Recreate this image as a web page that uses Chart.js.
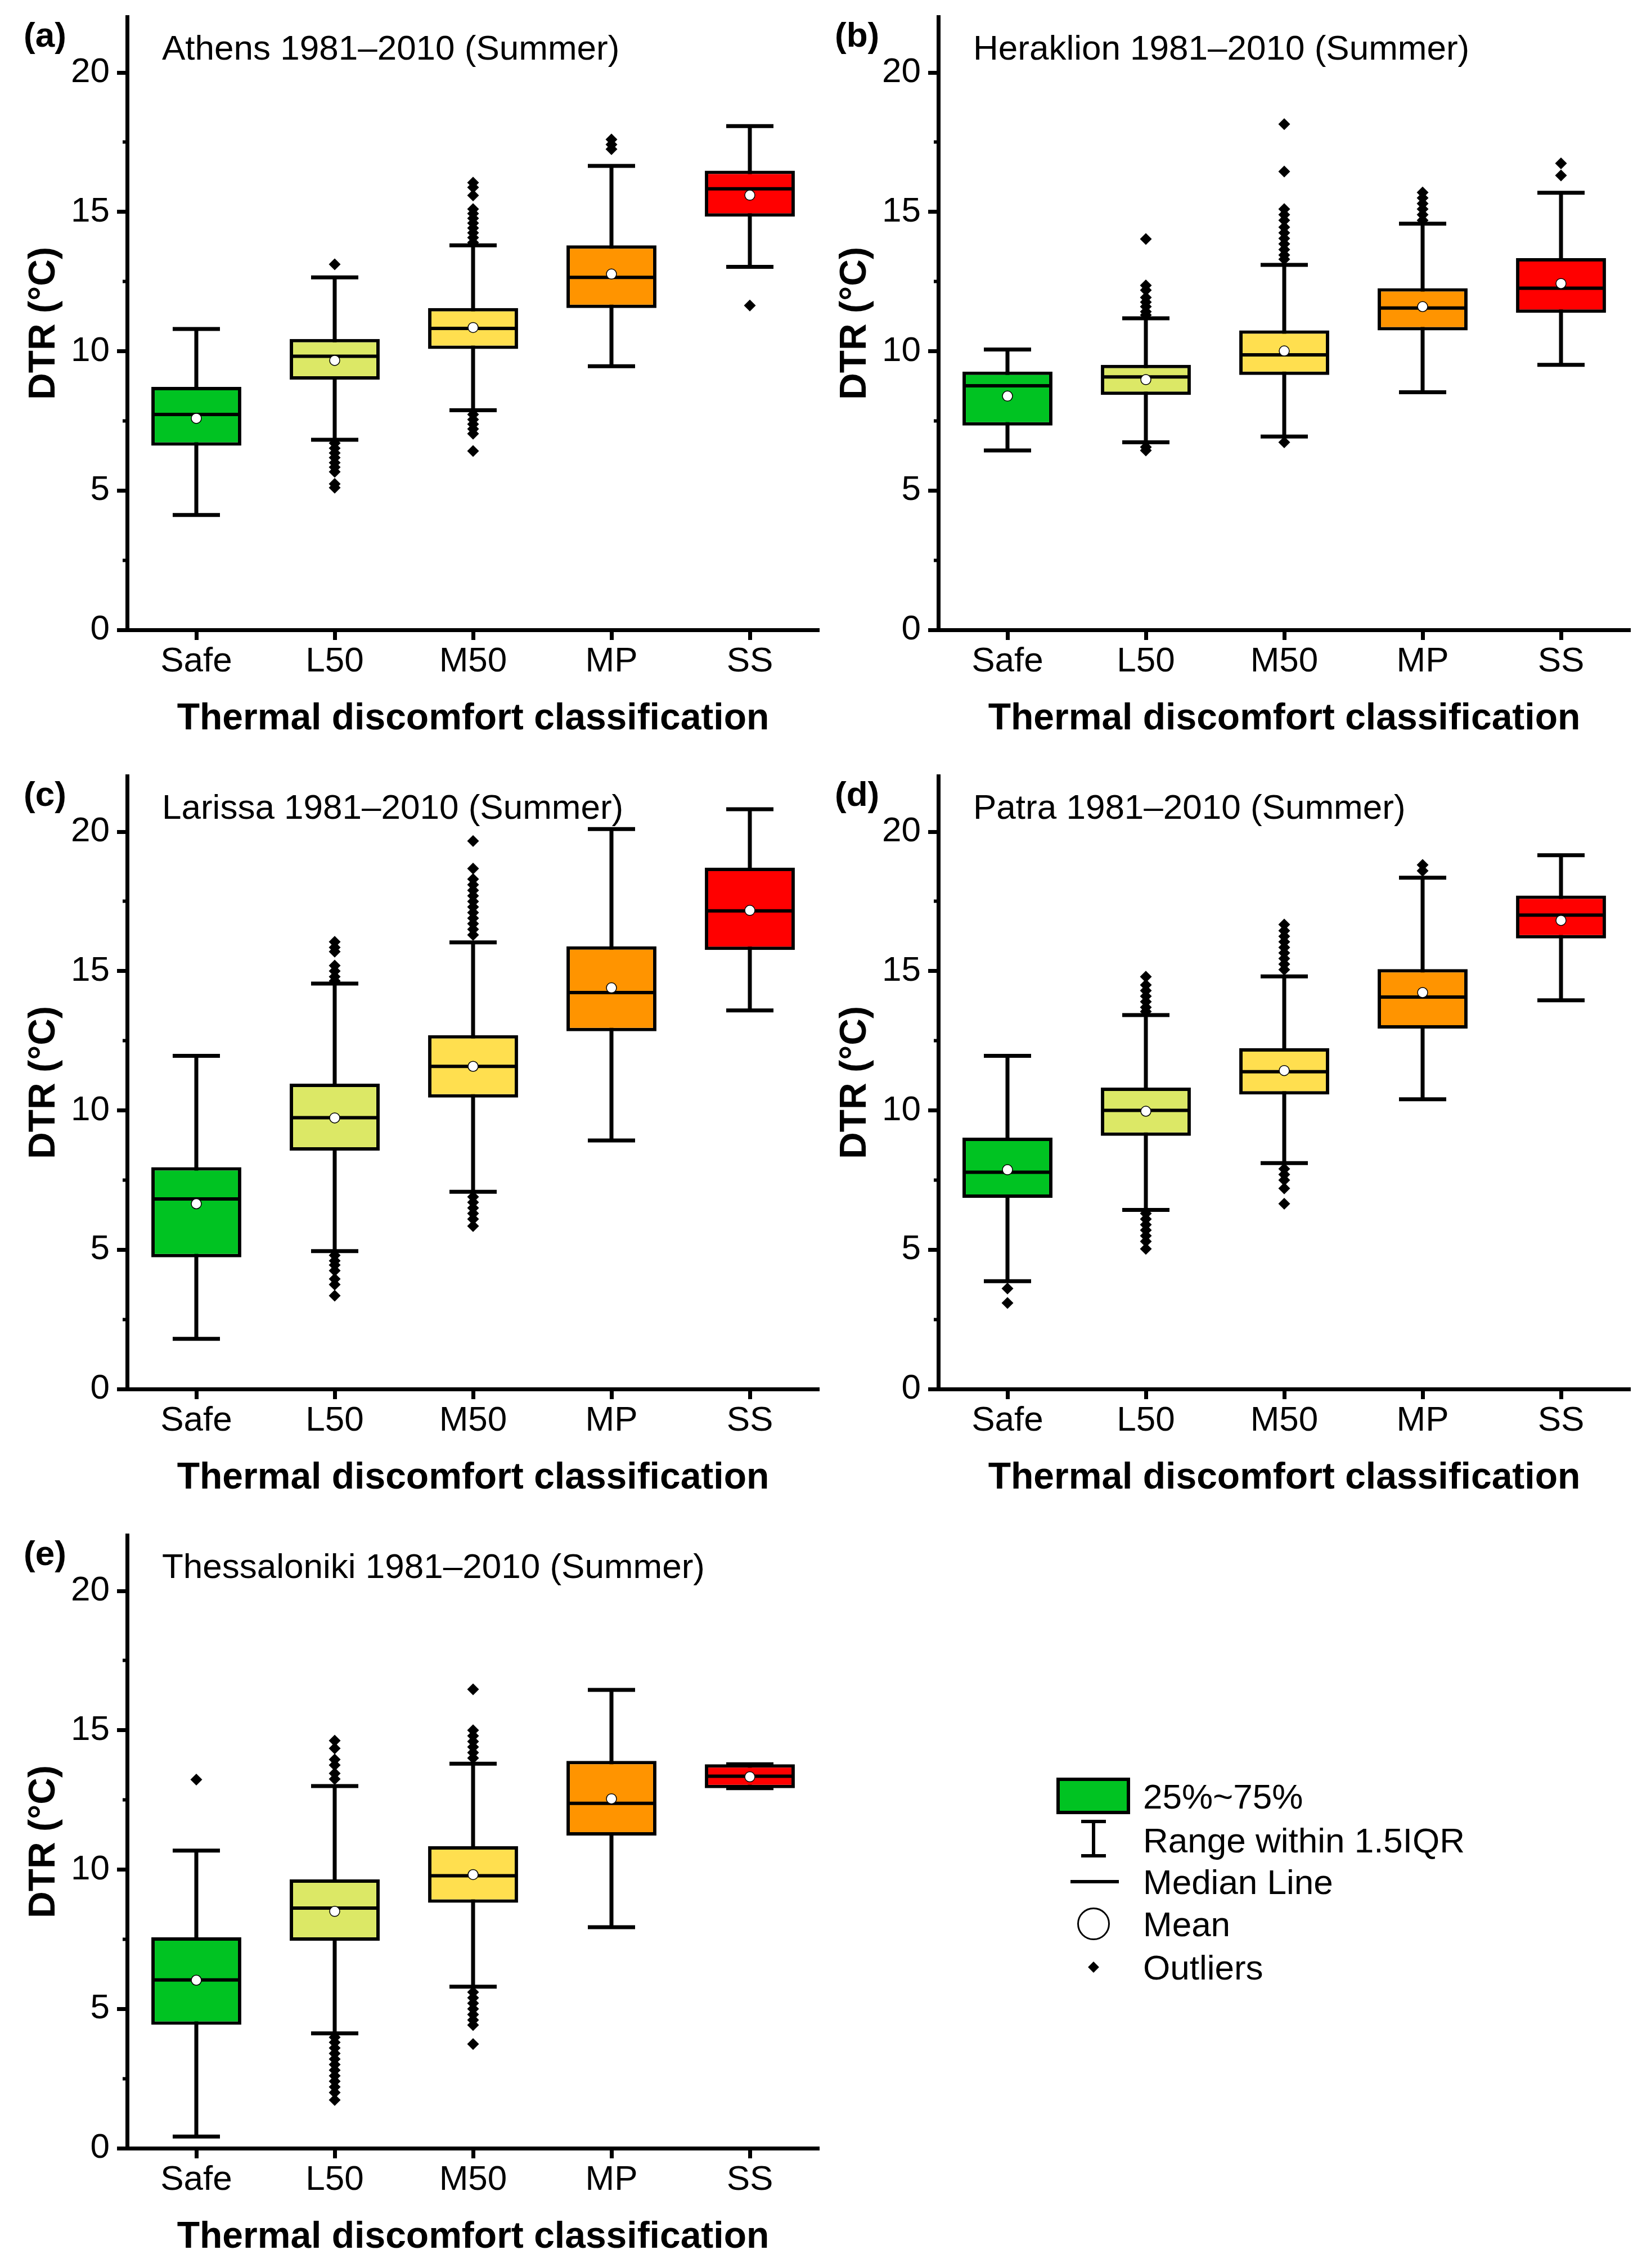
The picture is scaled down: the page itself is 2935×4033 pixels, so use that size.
<!DOCTYPE html>
<html>
<head>
<meta charset="utf-8">
<script src="https://cdn.jsdelivr.net/npm/chart.js@4.4.1/dist/chart.umd.min.js"></script>
<style>
  html, body { margin: 0; padding: 0; background: #fff; }
  body { width: 2935px; height: 4033px; position: relative; overflow: hidden; font-family: "Liberation Sans", Arial, sans-serif; color: #000; }
  canvas { position: absolute; }
  .lg { position: absolute; }
  .lgtext { position: absolute; font-size: 62px; line-height: 70px; white-space: nowrap; }
</style>
</head>
<body>
<canvas id="cA" width="1470" height="1340" style="left:0px;top:0px"></canvas>
<canvas id="cB" width="1470" height="1340" style="left:1442px;top:0px"></canvas>
<canvas id="cC" width="1470" height="1340" style="left:0px;top:1350px"></canvas>
<canvas id="cD" width="1470" height="1340" style="left:1442px;top:1350px"></canvas>
<canvas id="cE" width="1470" height="1340" style="left:0px;top:2700px"></canvas>

<!-- legend -->
<div class="lg" style="left:1878px;top:3161px;width:119px;height:53px;border:6px solid #000;background:#00c322;"></div>
<div class="lgtext" style="left:2032px;top:3160px;">25%~75%</div>
<div class="lg" style="left:1922px;top:3236px;width:44px;height:6px;background:#000;"></div>
<div class="lg" style="left:1941px;top:3236px;width:6px;height:67px;background:#000;"></div>
<div class="lg" style="left:1922px;top:3297px;width:44px;height:6px;background:#000;"></div>
<div class="lgtext" style="left:2032px;top:3238px;">Range within 1.5IQR</div>
<div class="lg" style="left:1903px;top:3343px;width:86px;height:6px;background:#000;"></div>
<div class="lgtext" style="left:2032px;top:3312px;">Median Line</div>
<div class="lg" style="left:1915px;top:3392px;width:52px;height:52px;border:3px solid #000;border-radius:50%;background:#fff;"></div>
<div class="lgtext" style="left:2032px;top:3387px;">Mean</div>
<div class="lg" style="left:1937px;top:3491px;width:14px;height:14px;background:#000;transform:rotate(45deg);"></div>
<div class="lgtext" style="left:2032px;top:3464px;">Outliers</div>

<script>
// ---------- shared labels ----------
const categories = ['Safe', 'L50', 'M50', 'MP', 'SS'];
const boxColors = ['#00c322', '#dce866', '#ffdf4f', '#ff9400', '#ff0000'];
const majorTicks = [0, 5, 10, 15, 20];
const minorTicks = [2.5, 7.5, 12.5, 17.5];
const xTitle = 'Thermal discomfort classification';
const yTitle = 'DTR (\u00B0C)';

// ---------- (a) Athens ----------
const athensLow    = [4.12, 6.82, 7.88, 9.46, 13.03];
const athensQ1     = [6.61, 8.98, 10.08, 11.55, 14.83];
const athensMedian = [7.73, 9.82, 10.82, 12.65, 15.83];
const athensQ3     = [8.72, 10.44, 11.55, 13.80, 16.48];
const athensHigh   = [10.80, 12.65, 13.80, 16.65, 18.08];
const athensMean   = [7.59, 9.67, 10.85, 12.77, 15.60];
const athensOutliers = [
  [],
  [13.12, 6.70, 6.52, 6.35, 6.18, 6.00, 5.84, 5.67, 5.24, 5.10],
  [16.05, 15.88, 15.59, 15.10, 14.94, 14.77, 14.60, 14.42, 14.25, 14.08, 13.90, 7.73, 7.55, 7.38, 7.21, 7.04, 6.42],
  [17.60, 17.42, 17.25],
  [11.64]
];

// ---------- (b) Heraklion ----------
const heraklionLow    = [6.44, 6.73, 6.94, 8.53, 9.51];
const heraklionQ1     = [7.33, 8.43, 9.15, 10.75, 11.38];
const heraklionMedian = [8.76, 9.08, 9.87, 11.55, 12.26];
const heraklionQ3     = [9.27, 9.51, 10.75, 12.26, 13.34];
const heraklionHigh   = [10.06, 11.18, 13.10, 14.58, 15.69];
const heraklionMean   = [8.39, 8.98, 10.01, 11.60, 12.43];
const heraklionOutliers = [
  [],
  [14.03, 12.36, 12.19, 11.93, 11.76, 11.60, 11.42, 11.30, 6.56, 6.44],
  [18.15, 16.45, 15.10, 14.90, 14.70, 14.45, 14.25, 14.05, 13.85, 13.65, 13.45, 13.30, 6.73],
  [15.70, 15.50, 15.30, 15.10, 14.90, 14.70],
  [16.74, 16.31]
];

// ---------- (c) Larissa ----------
const larissaLow    = [1.80, 4.95, 7.08, 8.92, 13.59];
const larissaQ1     = [4.73, 8.56, 10.46, 12.84, 15.76];
const larissaMedian = [6.82, 9.74, 11.58, 14.23, 17.16];
const larissaQ3     = [7.96, 10.96, 12.70, 15.89, 18.71];
const larissaHigh   = [11.96, 14.55, 16.03, 20.10, 20.81];
const larissaMean   = [6.65, 9.73, 11.58, 14.40, 17.18];
const larissaOutliers = [
  [],
  [16.05, 15.85, 15.70, 15.20, 15.00, 14.80, 14.65, 4.80, 4.60, 4.45, 4.25, 3.95, 3.75, 3.35],
  [19.67, 18.68, 18.30, 18.10, 17.90, 17.70, 17.50, 17.30, 17.10, 16.90, 16.70, 16.50, 16.30, 6.90, 6.70, 6.50, 6.30, 6.10, 5.85],
  [],
  []
];

// ---------- (d) Patra ----------
const patraLow    = [3.87, 6.43, 8.11, 10.40, 13.95];
const patraQ1     = [6.86, 9.09, 10.57, 12.94, 16.17];
const patraMedian = [7.78, 10.00, 11.39, 14.07, 17.01];
const patraQ3     = [9.02, 10.82, 12.23, 15.07, 17.71];
const patraHigh   = [11.96, 13.42, 14.81, 18.35, 19.16];
const patraMean   = [7.87, 9.97, 11.43, 14.23, 16.82];
const patraOutliers = [
  [3.61, 3.09],
  [14.80, 14.50, 14.30, 14.10, 13.90, 13.70, 13.55, 6.30, 6.10, 5.90, 5.70, 5.50, 5.30, 5.03],
  [16.67, 16.45, 16.25, 16.05, 15.85, 15.65, 15.45, 15.25, 15.05, 7.90, 7.70, 7.50, 7.20, 6.65],
  [18.81, 18.60],
  []
];

// ---------- (e) Thessaloniki ----------
const thessLow    = [0.42, 4.12, 5.80, 7.93, 12.92];
const thessQ1     = [4.43, 7.45, 8.81, 11.22, 12.92];
const thessMedian = [6.04, 8.62, 9.78, 12.38, 13.35];
const thessQ3     = [7.57, 9.65, 10.84, 13.90, 13.78];
const thessHigh   = [10.68, 13.00, 13.80, 16.45, 13.78];
const thessMean   = [6.03, 8.50, 9.82, 12.54, 13.33];
const thessOutliers = [
  [13.23],
  [14.63, 14.35, 13.95, 13.75, 13.45, 13.25, 3.98, 3.80, 3.60, 3.40, 3.20, 3.00, 2.80, 2.60, 2.40, 2.20, 2.00, 1.73],
  [16.47, 15.00, 14.80, 14.60, 14.40, 14.20, 14.00, 5.60, 5.40, 5.20, 5.00, 4.80, 4.60, 4.42, 3.74],
  [],
  []
];

// ---------- chart building ----------
Chart.defaults.font.family = "'Liberation Sans', Arial, sans-serif";
Chart.defaults.color = '#000';

const panelText = {
  id: 'panelText',
  afterDraw(chart, args, opts) {
    const { ctx, chartArea } = chart;
    ctx.save();
    ctx.fillStyle = '#000';
    ctx.textBaseline = 'alphabetic';
    ctx.textAlign = 'left';
    ctx.font = "bold 62px 'Liberation Sans', Arial, sans-serif";
    ctx.fillText(opts.tag, chartArea.left - 184, chartArea.top + 53);
    ctx.font = "62px 'Liberation Sans', Arial, sans-serif";
    ctx.fillText(opts.title, chartArea.left + 62, chartArea.top + 76);
    ctx.restore();
  }
};

function makeChart(id, tag, title, low, q1, med, q3, high, mean, outliers) {
  const outlierPts = [];
  outliers.forEach((list, i) => list.forEach(v => outlierPts.push({ x: categories[i], y: v })));
  const pointBase = { type: 'line', showLine: false, pointBorderColor: '#000' };
  return new Chart(document.getElementById(id), {
    type: 'bar',
    data: {
      labels: categories,
      datasets: [
        { // whisker stem
          type: 'bar', data: categories.map((c, i) => [low[i], high[i]]),
          backgroundColor: '#000', borderWidth: 0, grouped: false, maxBarThickness: 7, order: 6
        },
        { // box 25-75
          type: 'bar', data: categories.map((c, i) => [q1[i], q3[i]]),
          backgroundColor: boxColors, borderColor: '#000', borderWidth: 6, borderSkipped: false,
          grouped: false, barPercentage: 0.65, categoryPercentage: 1, order: 5
        },
        Object.assign({}, pointBase, { data: low, pointStyle: 'line', pointRadius: 42, pointHoverRadius: 42, pointBorderWidth: 7, order: 4 }),
        Object.assign({}, pointBase, { data: high, pointStyle: 'line', pointRadius: 42, pointHoverRadius: 42, pointBorderWidth: 7, order: 4 }),
        Object.assign({}, pointBase, { data: med, pointStyle: 'line', pointRadius: 77, pointHoverRadius: 77, pointBorderWidth: 6, order: 3 }),
        Object.assign({}, pointBase, { data: outlierPts, pointStyle: 'rectRot', pointRadius: 10.5, pointHoverRadius: 10.5, pointBackgroundColor: '#000', pointBorderWidth: 0, order: 2 }),
        Object.assign({}, pointBase, { data: mean, pointStyle: 'circle', pointRadius: 9, pointHoverRadius: 9, pointBackgroundColor: '#fff', pointBorderWidth: 1.5, order: 1 })
      ]
    },
    options: {
      responsive: false,
      devicePixelRatio: 1,
      animation: false,
      events: [],
      layout: { autoPadding: false, padding: { top: 30, right: 14, bottom: 0, left: 0 } },
      plugins: {
        legend: { display: false },
        tooltip: { enabled: false },
        panelText: { tag: tag, title: title }
      },
      scales: {
        x: {
          type: 'category', offset: true,
          grid: { display: true, drawOnChartArea: false, offset: false, tickLength: 18, tickWidth: 7, tickColor: '#000' },
          border: { display: true, width: 7, color: '#000' },
          ticks: { font: { size: 62 }, color: '#000', padding: 2, maxRotation: 0, autoSkip: false },
          title: { display: true, text: xTitle, color: '#000', font: { size: 66, weight: 'bold' }, padding: { top: 0, bottom: 22 } },
          afterFit(s) { s.height = 220; s.paddingLeft = 0; s.paddingRight = 0; }
        },
        y: {
          type: 'linear', position: 'left', min: 0, max: 22, weight: 1,
          afterBuildTicks(s) { s.ticks = majorTicks.map(v => ({ value: v })); },
          grid: { drawOnChartArea: false, tickLength: 18, tickWidth: 7, tickColor: '#000' },
          border: { display: true, width: 7, color: '#000' },
          ticks: { font: { size: 62 }, color: '#000', padding: 13 },
          title: { display: true, text: yTitle, color: '#000', font: { size: 66, weight: 'bold' }, padding: { top: 39, bottom: 0 } },
          afterFit(s) { s.width = 226; s.paddingTop = 0; s.paddingBottom = 0; }
        },
        yMinor: {
          type: 'linear', position: 'left', min: 0, max: 22, weight: 0,
          afterBuildTicks(s) { s.ticks = minorTicks.map(v => ({ value: v })); },
          grid: { drawOnChartArea: false, tickLength: 8, tickWidth: 6, tickColor: '#000' },
          border: { display: false },
          ticks: { display: false },
          afterFit(s) { s.width = 0; s.paddingTop = 0; s.paddingBottom = 0; }
        }
      }
    },
    plugins: [panelText]
  });
}

makeChart('cA', '(a)', 'Athens 1981\u20132010 (Summer)', athensLow, athensQ1, athensMedian, athensQ3, athensHigh, athensMean, athensOutliers);
makeChart('cB', '(b)', 'Heraklion 1981\u20132010 (Summer)', heraklionLow, heraklionQ1, heraklionMedian, heraklionQ3, heraklionHigh, heraklionMean, heraklionOutliers);
makeChart('cC', '(c)', 'Larissa 1981\u20132010 (Summer)', larissaLow, larissaQ1, larissaMedian, larissaQ3, larissaHigh, larissaMean, larissaOutliers);
makeChart('cD', '(d)', 'Patra 1981\u20132010 (Summer)', patraLow, patraQ1, patraMedian, patraQ3, patraHigh, patraMean, patraOutliers);
makeChart('cE', '(e)', 'Thessaloniki 1981\u20132010 (Summer)', thessLow, thessQ1, thessMedian, thessQ3, thessHigh, thessMean, thessOutliers);
</script>
</body>
</html>
